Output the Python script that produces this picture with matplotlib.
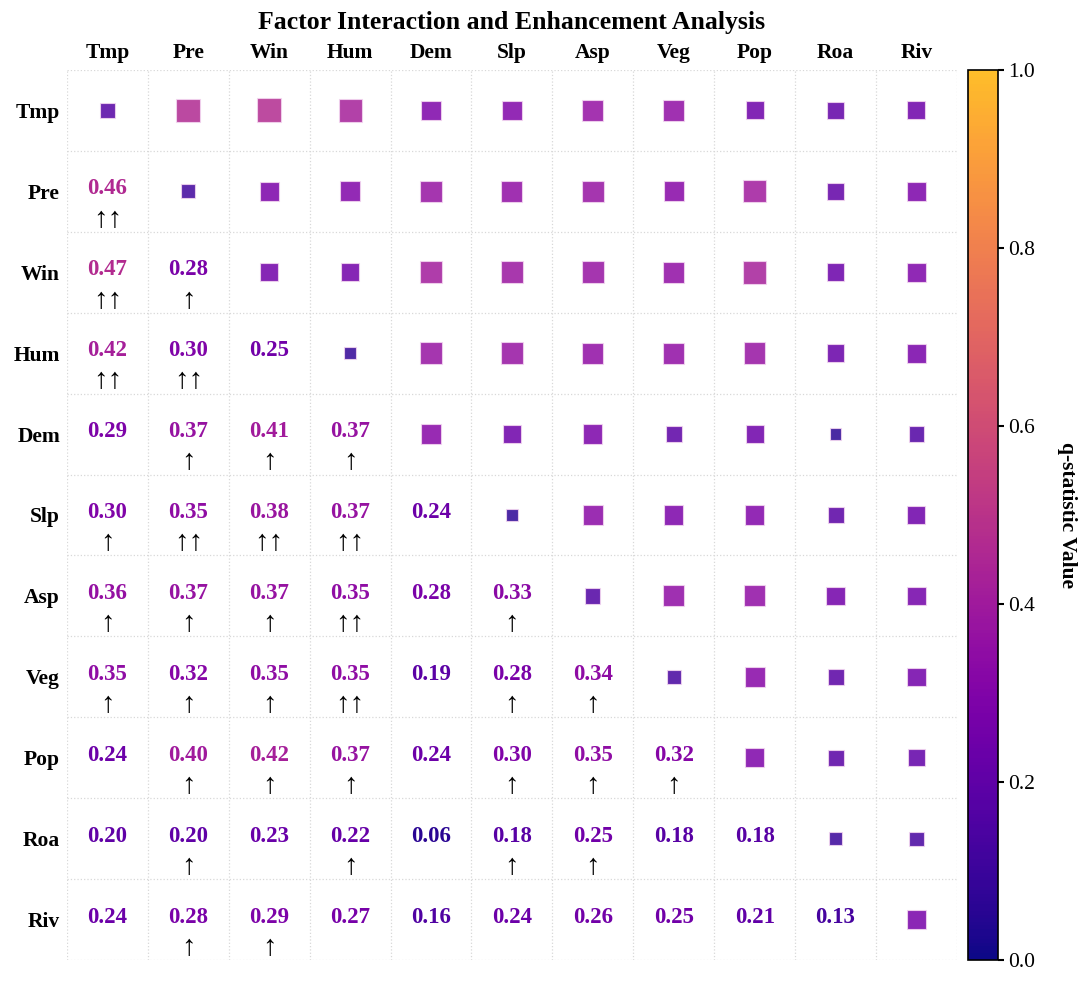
import numpy as np
import matplotlib
matplotlib.use("Agg")
import matplotlib.pyplot as plt
from matplotlib.colors import LinearSegmentedColormap, Normalize

plt.rcParams['font.family'] = ['Liberation Serif', 'DejaVu Serif', 'DejaVu Sans']

factors = ["Tmp", "Pre", "Win", "Hum", "Dem", "Slp", "Asp", "Veg", "Pop", "Roa", "Riv"]

# single-factor q values (diagonal), estimated from square sizes
single_q = [0.17, 0.12, 0.25, 0.08, 0.32, 0.07, 0.16, 0.13, 0.29, 0.10, 0.27]

# lower-triangle interaction q values (row i, columns 0..i-1)
inter_q = {
    "Pre": [0.46],
    "Win": [0.47, 0.28],
    "Hum": [0.42, 0.30, 0.25],
    "Dem": [0.29, 0.37, 0.41, 0.37],
    "Slp": [0.30, 0.35, 0.38, 0.37, 0.24],
    "Asp": [0.36, 0.37, 0.37, 0.35, 0.28, 0.33],
    "Veg": [0.35, 0.32, 0.35, 0.35, 0.19, 0.28, 0.34],
    "Pop": [0.24, 0.40, 0.42, 0.37, 0.24, 0.30, 0.35, 0.32],
    "Roa": [0.20, 0.20, 0.23, 0.22, 0.06, 0.18, 0.25, 0.18, 0.18],
    "Riv": [0.24, 0.28, 0.29, 0.27, 0.16, 0.24, 0.26, 0.25, 0.21, 0.13],
}

# enhancement type markers (↑ bi-factor enhance, ↑↑ nonlinear enhance)
enh = {
    "Pre": ["↑↑"],
    "Win": ["↑↑", "↑"],
    "Hum": ["↑↑", "↑↑", ""],
    "Dem": ["", "↑", "↑", "↑"],
    "Slp": ["↑", "↑↑", "↑↑", "↑↑", ""],
    "Asp": ["↑", "↑", "↑", "↑↑", "", "↑"],
    "Veg": ["↑", "↑", "↑", "↑↑", "", "↑", "↑"],
    "Pop": ["", "↑", "↑", "↑", "", "↑", "↑", "↑"],
    "Roa": ["", "↑", "", "↑", "", "↑", "↑", "", ""],
    "Riv": ["", "↑", "↑", "", "", "", "", "", "", ""],
}

n = len(factors)
M = np.zeros((n, n))
for i in range(n):
    M[i, i] = single_q[i]
for i, f in enumerate(factors[1:], start=1):
    for j, v in enumerate(inter_q[f]):
        M[i, j] = v
        M[j, i] = v

base = plt.get_cmap('plasma')
cmap = LinearSegmentedColormap.from_list('plasma_trunc', base(np.linspace(0, 0.86, 256)))
norm = Normalize(0, 1)

fig = plt.figure(figsize=(10.8, 9.85), dpi=100)
ax = fig.add_axes([0.062, 0.0254, 0.824, 0.9036])
cax = fig.add_axes([0.8963, 0.0254, 0.0278, 0.9036])

# squares: diagonal and upper triangle
xs, ys, vs = [], [], []
for i in range(n):
    for j in range(i, n):
        xs.append(j); ys.append(i); vs.append(M[i, j])
vs = np.array(vs)
ax.scatter(xs, ys, s=30 + vs * 570, c=vs, cmap=cmap, norm=norm, marker='s',
           alpha=0.85, edgecolors='#f3d6f0', linewidths=0.8, zorder=3)

# lower triangle: text values and enhancement arrows
arrow_font = ['Liberation Serif', 'DejaVu Sans']
for i, f in enumerate(factors[1:], start=1):
    for j, v in enumerate(inter_q[f]):
        arr = enh[f][j]
        ax.text(j, i - 0.03, f"{v:.2f}", ha='center', va='center', fontsize=16.5,
                fontweight='bold', color=cmap(norm(v)), zorder=4)
        if arr:
            ax.text(j, i + 0.35, arr, ha='center', va='center', fontsize=21,
                    color='black', zorder=4, family=arrow_font)

ax.set_xlim(-0.5, n - 0.5)
ax.set_ylim(n - 0.5, -0.5)
ax.set_xticks(range(n))
ax.set_yticks(range(n))
ax.set_xticklabels(factors, fontsize=15.5, fontweight='bold')
ax.set_yticklabels(factors, fontsize=15.5, fontweight='bold')
ax.xaxis.tick_top()
ax.tick_params(axis='x', length=0, pad=5)
ax.tick_params(axis='y', length=0, pad=5)
ax.set_xticks(np.arange(-0.5, n, 1), minor=True)
ax.set_yticks(np.arange(-0.5, n, 1), minor=True)
ax.tick_params(which='minor', length=0)
ax.grid(which='minor', color='#d8d8d8', linestyle=':', linewidth=0.9)
ax.grid(which='major', visible=False)
for sp in ax.spines.values():
    sp.set_visible(False)

sm = plt.cm.ScalarMappable(norm=norm, cmap=cmap)
cb = fig.colorbar(sm, cax=cax)
cb.set_ticks([0.0, 0.2, 0.4, 0.6, 0.8, 1.0])
cb.ax.tick_params(labelsize=15.5, length=4, width=1.5)
cb.outline.set_linewidth(1.2)
cb.set_label("q-statistic Value", rotation=270, fontsize=15.5, fontweight='bold', labelpad=30)

fig.suptitle("Factor Interaction and Enhancement Analysis", fontsize=18.5,
             fontweight='bold', x=0.474, y=0.989, va='top')

fig.savefig("out.png", dpi=100)
